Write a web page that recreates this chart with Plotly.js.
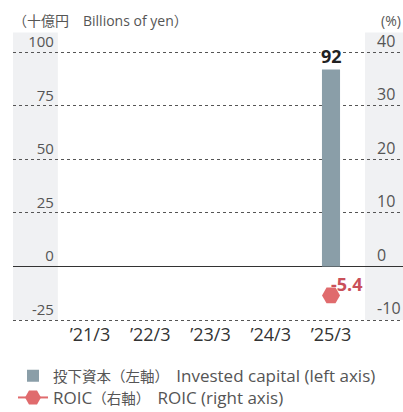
<!DOCTYPE html>
<html>
<head>
<meta charset="utf-8">
<script src="https://cdn.plot.ly/plotly-3.0.1.min.js"></script>
<style>
  html, body { margin: 0; padding: 0; background: #fff; }
  #chart { width: 403px; height: 412px; }
</style>
</head>
<body>
<div id="chart"></div>
<script>
const years = ['\u201921/3', '\u201922/3', '\u201923/3', '\u201924/3', '\u201925/3'];
const investedCapital = [null, null, null, null, 92];
const roic = [null, null, null, null, -5.4];
const capitalTicks = [-25, 0, 25, 50, 75, 100];
const roicTicks = [-10, 0, 10, 20, 30, 40];
// Japanese part is set a little smaller than the Latin part, as in the source
const capitalName = '<span style="font-size:14.5px">投下資本（左軸）　</span>Invested capital (left axis)';
const roicName = 'ROIC<span style="font-size:14.5px">（右軸）　</span>ROIC (right axis)';

const FONT = 'Open Sans, Noto Sans CJK JP, sans-serif';
const last = years.length - 1;

const barTrace = {
    x: years,
    y: investedCapital,
    type: 'bar',
    name: capitalName,
    legend: 'legend',
    width: 0.3,
    marker: { color: '#8a9ea8' },
    hoverinfo: 'skip'
};

const roicTrace = {
    x: years,
    y: roic,
    yaxis: 'y2',
    type: 'scatter',
    mode: 'lines+markers',
    name: roicName,
    legend: 'legend2',
    line: { color: '#e06b6d', width: 2 },
    marker: { symbol: 'hexagon2', size: 18, color: '#e06b6d' },
    hoverinfo: 'skip'
};

// value label for ROIC, kept out of the legend
const roicLabel = {
    x: years,
    y: roic,
    yaxis: 'y2',
    type: 'scatter',
    mode: 'text',
    text: roic.map(v => v === null ? '' : v.toFixed(1)),
    textposition: 'top right',
    textfont: { family: FONT, size: 18, color: '#c9505a', weight: 'bold' },
    showlegend: false,
    hoverinfo: 'skip'
};

const legendFont = { family: FONT, size: 17, color: '#555' };

const layout = {
    width: 403,
    height: 412,
    margin: { l: 13, r: 0, t: 46.6, b: 90, autoexpand: false },
    paper_bgcolor: '#fff',
    plot_bgcolor: 'rgba(0,0,0,0)',
    font: { family: FONT, size: 15, color: '#555' },
    showlegend: true,
    legend: {
        x: 0, xanchor: 'left',
        y: -0.197, yanchor: 'middle',
        font: legendFont,
        bgcolor: 'rgba(0,0,0,0)'
    },
    legend2: {
        x: 0, xanchor: 'left',
        y: -0.276, yanchor: 'middle',
        font: legendFont,
        bgcolor: 'rgba(0,0,0,0)'
    },
    xaxis: {
        type: 'category',
        range: [-1.278, 5.195],
        showgrid: false,
        zeroline: false,
        showline: false,
        ticks: '',
        tickfont: { size: 18, color: '#333' },
        fixedrange: true
    },
    yaxis: {
        range: [-25.933, 102.5],
        tickvals: capitalTicks,
        ticktext: capitalTicks.map(String),
        anchor: 'free',
        position: 0.105,
        side: 'left',
        ticklabelposition: 'outside top',
        ticks: '',
        showgrid: true,
        gridcolor: '#555',
        griddash: 'dot',
        gridwidth: 1,
        zeroline: true,
        zerolinecolor: '#333',
        zerolinewidth: 1.5,
        showline: false,
        tickfont: { size: 15, color: '#555' },
        fixedrange: true
    },
    yaxis2: {
        range: [-10.373, 41.0],
        tickvals: roicTicks,
        ticktext: roicTicks.map(String),
        overlaying: 'y',
        side: 'right',
        anchor: 'free',
        position: 0.931,
        ticklabelposition: 'outside top',
        ticks: '',
        showgrid: false,
        zeroline: false,
        showline: false,
        tickfont: { size: 16, color: '#555' },
        fixedrange: true
    },
    shapes: [
        { type: 'rect', xref: 'paper', yref: 'paper', x0: 0, x1: 0.115, y0: 0.0073, y1: 1.053,
          fillcolor: '#f0f1f3', line: { width: 0 }, layer: 'below' },
        { type: 'rect', xref: 'paper', yref: 'paper', x0: 0.9026, x1: 1, y0: 0.0073, y1: 1.053,
          fillcolor: '#f0f1f3', line: { width: 0 }, layer: 'below' }
    ],
    annotations: [
        { xref: 'paper', yref: 'paper', x: -0.005, y: 1.097, xanchor: 'left', yanchor: 'middle',
          text: '（十億円　Billions of yen）', showarrow: false,
          font: { family: FONT, size: 14, color: '#555' } },
        { xref: 'paper', yref: 'paper', x: 1, y: 1.097, xanchor: 'right', yanchor: 'middle',
          text: '(%)', showarrow: false,
          font: { family: FONT, size: 14, color: '#555' } },
        { x: years[last], y: investedCapital[last], xref: 'x', yref: 'y',
          yanchor: 'bottom', text: String(investedCapital[last]),
          showarrow: false, bgcolor: '#fff', borderpad: 0,
          font: { family: FONT, size: 18, color: '#222', weight: 'bold' } }
    ]
};

Plotly.newPlot('chart', [barTrace, roicTrace, roicLabel], layout, { staticPlot: true, displayModeBar: false });
</script>
</body>
</html>
